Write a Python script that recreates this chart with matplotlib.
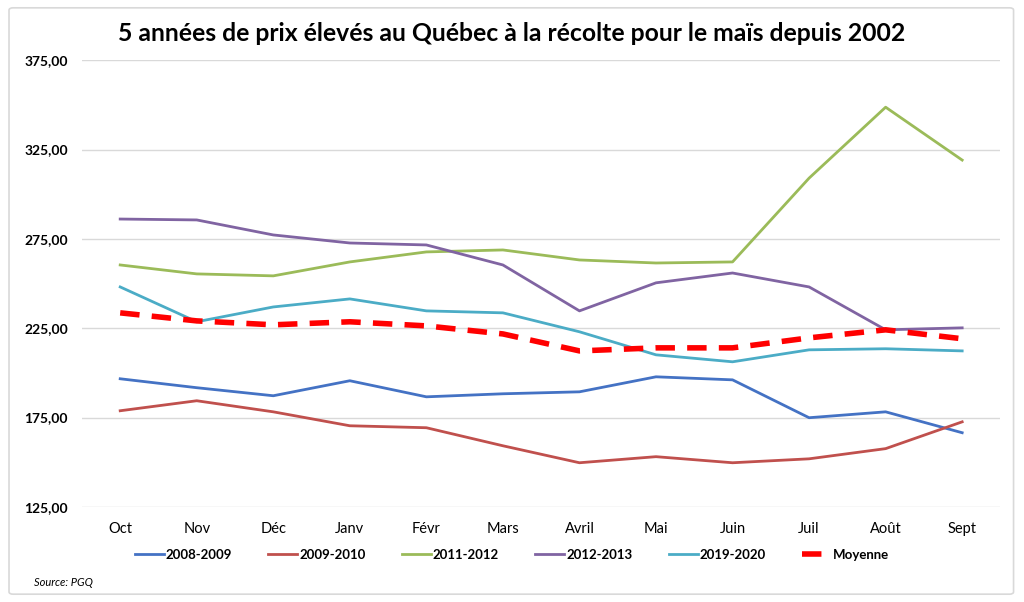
from matplotlib import pyplot as plt
from matplotlib.patches import FancyBboxPatch
from matplotlib.ticker import FuncFormatter

plt.rcParams['font.family'] = ['Lato', 'DejaVu Sans']

# months (harvest year)
mois = ['Oct', 'Nov', 'Déc', 'Janv', 'Févr', 'Mars', 'Avril', 'Mai', 'Juin',
        'Juil', 'Août', 'Sept']

# prices ($/t)
s2008 = [196.7, 191.7, 187.2, 195.6, 186.6, 188.3, 189.4, 197.8, 196.1, 174.9, 178.2, 166.5]
s2009 = [178.8, 184.4, 178.2, 170.4, 169.3, 159.2, 149.7, 153.1, 149.7, 151.9, 157.6, 172.6]
s2011 = [260.4, 255.4, 254.3, 262.1, 267.7, 268.8, 263.2, 261.5, 262.1, 309.0, 348.7, 319.1]
s2012 = [286.1, 285.6, 277.2, 272.7, 271.6, 260.4, 234.7, 250.4, 255.9, 248.1, 224.1, 225.2]
s2019 = [248.1, 228.6, 236.9, 241.4, 234.7, 233.6, 223.0, 210.1, 206.2, 212.9, 213.5, 212.3]
moyenne = [233.6, 229.1, 226.9, 228.6, 226.3, 221.8, 212.3, 214.0, 214.0, 219.6, 224.1, 219.1]

fig = plt.figure(figsize=(10.24, 6.02), dpi=100)
ax = fig.add_axes([0.080, 0.158, 0.897, 0.742])

x = range(len(mois))
ax.plot(x, s2008, color='#4472C4', lw=2.0, label='2008-2009')
ax.plot(x, s2009, color='#C0504D', lw=2.0, label='2009-2010')
ax.plot(x, s2011, color='#9BBB59', lw=2.0, label='2011-2012')
ax.plot(x, s2012, color='#8064A2', lw=2.0, label='2012-2013')
ax.plot(x, s2019, color='#4BACC6', lw=2.0, label='2019-2020')
ax.plot(x, moyenne, color='#FF0000', lw=4.0, dashes=(3.5, 2.2), label='Moyenne')

ax.set_xlim(-0.5, 11.5)
ax.set_ylim(125, 375)
ax.set_yticks([125, 175, 225, 275, 325, 375])
ax.yaxis.set_major_formatter(FuncFormatter(lambda v, p: f'{v:.2f}'.replace('.', ',')))
ax.set_xticks(list(x))
ax.set_xticklabels(mois, fontsize=10.5)
for lbl in ax.get_yticklabels():
    lbl.set_fontweight('bold')
    lbl.set_fontsize(10)
ax.tick_params(length=0)
ax.tick_params(axis='x', pad=11)
ax.tick_params(axis='y', pad=10)
ax.grid(axis='y', color='#D9D9D9', lw=1.0)
ax.set_axisbelow(True)
for sp in ax.spines.values():
    sp.set_visible(False)

fig.text(0.5, 0.945, '5 années de prix élevés au Québec à la récolte pour le maïs depuis 2002',
         ha='center', va='center', fontsize=17.8, fontweight='bold')

leg = fig.legend(loc='center', bbox_to_anchor=(0.5, 0.078), ncol=6, frameon=False,
                 prop={'weight': 'bold', 'size': 9.5}, handlelength=2.2,
                 handletextpad=0.15, columnspacing=2.75)

fig.text(0.033, 0.032, 'Source: PGQ', fontsize=8, style='italic', ha='left', va='center')

border = FancyBboxPatch((0.0088, 0.013), 0.981, 0.974, boxstyle='round,pad=0,rounding_size=0.004',
                        transform=fig.transFigure, fill=False, ec='#D9D9D9', lw=1.2)
fig.patches.append(border)

plt.savefig('out.png', dpi=100)
